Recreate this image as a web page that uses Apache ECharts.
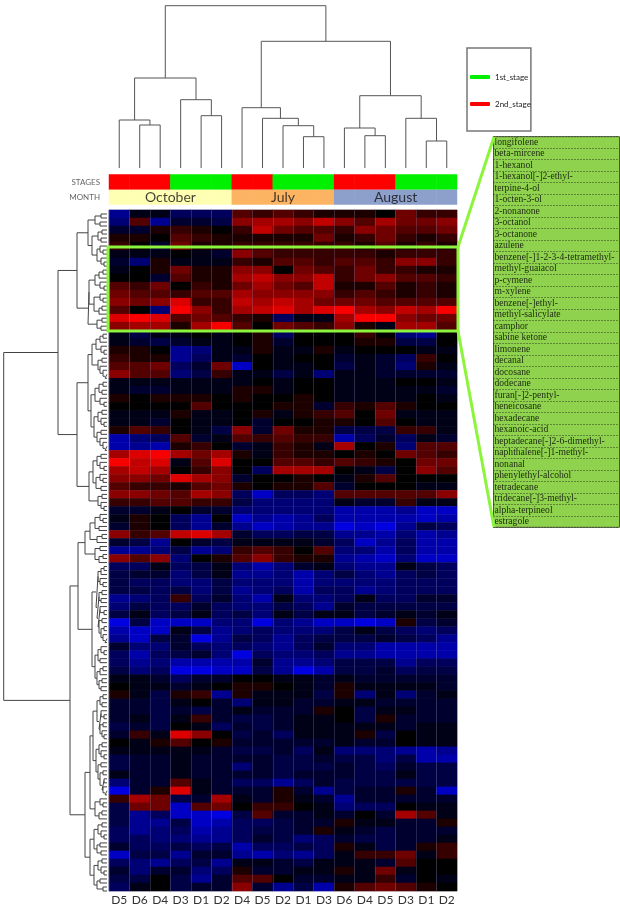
<!DOCTYPE html>
<html>
<head>
<meta charset="utf-8">
<style>html,body{margin:0;padding:0;background:#fff}#chart{width:620px;height:912px}</style>
<script src="https://cdn.jsdelivr.net/npm/echarts@6/dist/echarts.min.js"></script>
</head>
<body>
<div id="chart"></div>
<script>
var sampleCols = ['D5','D6','D4','D3','D1','D2','D4','D5','D2','D1','D3','D6','D4','D5','D3','D1','D2'];
var stageCodes = [2,2,2,1,1,1,2,2,1,1,1,2,2,2,1,1,1];
var monthCodes = [3,3,3,3,3,3,4,4,4,4,4,5,5,5,5,5,5];
var monthNames = ['October','July','August'];
var monthCentres = [2.5,8,13.5];
var compounds = ['longifolene','beta-mircene','1-hexanol','1-hexanol[-]2-ethyl-','terpine-4-ol','1-octen-3-ol','2-nonanone','3-octanol','3-octanone','azulene','benzene[-]1-2-3-4-tetramethyl-','methyl-guaiacol','p-cymene','m-xylene','benzene[-]ethyl-','methyl-salicylate','camphor','sabine ketone','limonene','decanal','docosane','dodecane','furan[-]2-pentyl-','heneicosane','hexadecane','hexanoic-acid','heptadecane[-]2-6-dimethyl-','naphthalene[-]1-methyl-','nonanal','phenylethyl-alcohol','tetradecane','tridecane[-]3-methyl-','alpha-terpineol','estragole'];

// heatmap bands, top to bottom, one row per 8px or so of the picture
var bandTop = [
[-6,-1,-1,-4,-4,-4,3,2,3,2,1,1,1,0,4,2,2],
[-5,3,-6,-2,-2,-3,5,6,6,5,7,5,3,6,4,4,5],
[-2,-2,1,2,1,0,2,7,4,3,3,2,5,4,3,3,4],
[1,1,0,3,2,1,1,1,1,1,4,1,2,4,2,1,2],
[2,0,-2,4,1,1,2,2,2,2,2,2,1,3,1,2,1]
];
var bandGreen = [
[-1,-1,-1,0,-1,-2,5,3,2,2,2,2,2,1,2,2,2],
[-2,-5,1,-1,-1,-1,2,1,3,3,2,3,3,2,5,5,2],
[-1,0,1,4,1,1,5,5,0,4,3,2,4,2,2,1,1],
[0,0,-2,3,1,1,6,7,5,5,7,2,4,5,3,3,2],
[3,2,4,0,2,1,4,6,4,3,7,1,1,3,1,2,1],
[4,3,3,2,3,3,6,5,5,5,5,2,3,2,1,2,1],
[5,4,5,8,2,2,7,6,7,6,4,4,4,3,3,3,3],
[3,0,-5,9,5,2,6,7,8,6,8,9,6,5,7,6,9],
[8,9,8,3,4,3,2,1,-4,-1,-1,6,9,9,5,4,4],
[5,6,6,1,6,9,3,0,4,3,2,5,1,-1,6,6,3]
];
var bandMid = [
[-1,-3,-1,-1,0,-1,0,1,-4,0,0,0,2,0,-5,-6,0],
[-1,-2,-3,-2,-1,-1,0,1,-2,0,0,0,1,1,-3,-3,0],
[1,1,0,-6,-5,-1,-1,1,-1,-1,1,-1,0,0,0,-1,-1],
[2,1,1,-6,-4,-1,-2,0,-1,0,0,-2,-1,-2,-4,2,0],
[3,3,4,-4,-2,4,-8,0,-1,-1,0,-3,-1,-2,-5,1,-1],
[5,3,3,-5,-3,2,-1,-1,-3,-1,-5,-1,-1,-2,-2,-2,-2],
[-1,-1,-1,-1,-1,-1,-1,0,-1,0,0,-1,-1,-1,0,0,-1],
[-1,-2,-2,-1,-1,-1,1,1,-1,0,0,-1,-1,-1,-1,-1,-2],
[1,0,1,1,1,0,1,0,0,1,0,-1,-1,-1,-1,0,-1],
[0,0,0,0,3,0,0,0,1,1,-2,2,1,3,1,0,0],
[-1,-1,-1,1,-1,-1,0,1,-1,1,2,3,0,4,-1,-1,-1],
[-1,-1,-2,0,-1,-1,0,-2,0,0,1,1,0,3,0,-1,-1],
[1,3,2,0,-1,-3,5,-2,4,1,1,-3,-3,-3,2,2,-1],
[-7,-5,-4,3,-2,-1,3,2,3,2,2,-7,-4,-2,-4,-1,-2],
[-7,-6,-7,1,2,0,-2,-1,2,1,-1,6,0,1,-5,3,3],
[6,8,9,6,4,6,1,-1,2,1,1,0,1,0,4,3,2],
[9,7,8,-1,3,8,0,0,3,3,2,3,2,1,0,4,4],
[6,7,6,0,2,5,0,-4,6,6,6,0,-1,-3,0,5,3],
[5,5,4,8,6,5,-2,0,0,1,0,-1,1,3,0,0,0],
[3,2,2,1,3,4,1,0,1,1,3,-2,0,0,0,-1,-1],
[5,5,4,3,6,5,-4,-8,-4,-4,-5,3,3,3,3,3,5],
[2,2,3,3,2,2,-3,-5,-5,-5,-5,-1,-2,-2,2,-1,-1],
[-2,-2,-1,0,-2,-2,-5,-5,-5,-5,-5,-7,-7,-7,-6,-8,-8],
[-1,1,0,-4,-6,0,-8,-6,-7,-6,-4,-7,-7,-7,-7,-8,-7],
[-2,1,0,-4,-6,-2,-6,-8,-7,-6,-6,-9,-8,-9,-6,-3,-4],
[5,2,3,7,8,6,-2,-4,-4,-3,-3,-6,-6,-7,-5,-7,-6],
[-2,-3,-6,0,-2,-3,-1,-1,-1,-1,-2,-4,-8,-6,-4,-7,-7],
[-6,-6,-5,-3,-6,-5,2,3,2,0,3,-5,-5,-7,-4,-7,-7]
];
var bandBlue = [
[5,3,5,-5,0,1,3,5,2,1,1,-6,-7,-8,-5,-8,-8],
[-4,-4,-1,-4,-3,-1,-5,-7,-5,-2,-1,-5,-6,-6,-1,-3,-4],
[-3,-2,-2,-5,-3,-1,-6,-6,-5,-7,-5,-3,-5,-6,-4,-3,-4],
[-3,-4,-4,-5,-5,-3,-5,-5,-5,-7,-5,-5,-5,-5,-4,-4,-4],
[-3,-3,-4,-3,-5,-3,-6,-5,-4,-7,-4,-4,-6,-5,-4,-4,-4],
[-6,-5,-4,2,-4,-2,-5,-7,-1,-5,-5,-4,-1,-4,-4,-2,-2],
[-5,-3,-4,-4,-2,-4,-5,-5,-3,-4,-6,-2,-3,-3,-3,-3,-3],
[-3,-1,-4,-3,-1,-4,-3,-5,-1,-3,-1,-1,-3,-2,-1,-2,-1],
[-9,-3,-8,-8,-8,-5,-5,-9,-5,-6,-8,-8,-9,-8,1,-3,-2],
[-7,-8,-8,-1,-3,-6,-5,-4,-5,-5,-5,-3,-1,-3,-4,-5,-4],
[-6,-8,-3,-2,-9,-6,-3,-4,-6,-4,-3,-3,-3,-2,-3,-4,-6],
[-2,-5,-5,-2,-4,-5,-4,-5,-6,-4,-2,-5,-5,-7,-7,-7,-7],
[-4,-7,-4,-3,-2,-5,-9,-4,-5,-5,-4,-6,-6,-7,-7,-7,-7],
[-4,-6,-5,-7,-7,-7,-7,-2,-6,-6,-5,-3,-3,-3,-6,-4,-4],
[-3,-5,-4,-9,-9,-8,-8,-3,-6,-9,-7,-3,-3,-2,-4,-3,-3],
[-1,-1,-2,-4,-2,-2,0,0,-1,-1,-2,-1,-2,-2,-2,-2,-2],
[0,-1,-1,-2,-1,0,1,1,0,-1,-2,1,-1,-1,-1,-1,-2],
[1,-1,-3,1,2,-6,1,-1,-1,-1,-3,1,-5,-1,-5,-2,-1],
[-2,-2,-3,-1,0,-2,-5,-1,-1,-2,-2,-1,-1,-2,-2,-2,-2],
[-2,-2,-3,-2,-3,-2,-1,-2,-2,-2,1,0,-3,-1,-1,-2,-2],
[-2,-1,-3,-1,2,-2,-3,-3,-2,-1,-1,0,-3,1,-2,-2,-2],
[-3,-2,-3,0,-1,-4,-2,-3,-2,-1,-1,-1,-1,-1,-2,-1,-1]
];
var bandBottom = [
[-2,2,-1,8,5,0,-3,-2,-4,-1,-1,-1,1,-3,0,-1,-1],
[0,-1,1,3,0,1,-2,-2,-2,-2,-2,-1,-2,-2,0,-1,-1],
[-1,-1,-1,-1,-1,-2,-3,-3,-2,-4,-1,-5,-5,-5,-6,-7,-6],
[-3,-2,-2,-1,-2,-2,-2,-2,-3,-3,-2,-3,-3,-5,-3,-7,-7],
[-3,-2,-2,-1,-2,-2,-5,-2,-3,-3,-3,-2,-3,-4,-2,-3,-3],
[-1,-2,-2,-1,-2,-2,-2,-2,-3,-2,-2,-2,-3,-3,-1,-3,-3],
[-5,-2,-2,3,-1,-2,-4,-4,-6,-4,-2,-3,-3,-3,-3,-3,-3],
[-9,-2,1,8,-1,-2,-2,-2,1,-2,-6,-3,-2,-2,1,-2,-8],
[2,6,4,-3,-2,6,-1,-2,1,-1,-2,-6,-2,-2,-2,-2,-2],
[-3,4,4,-8,3,4,0,2,2,0,-1,-5,-4,-4,0,-1,-1],
[-3,-6,-4,-8,-8,-9,-3,3,-2,-2,-1,-2,0,-2,6,3,-1],
[-3,-6,-6,-3,-8,-7,-4,-4,-3,-2,-2,1,-1,-1,-2,-2,1],
[-4,-6,-5,-4,-7,-6,-4,-3,-3,-2,1,-1,-2,-3,-2,-2,-2],
[-4,-4,-5,-5,-6,-6,-4,-2,-3,-5,-4,-2,-3,-3,-2,-2,-1],
[-2,-4,-4,-3,-4,-3,-7,-4,-4,-3,-4,1,-1,-3,-2,1,2],
[-8,-3,-3,-6,-2,-2,-6,-7,-5,-6,-4,-1,2,2,4,-1,2],
[-4,-5,-6,-4,-3,-6,-1,-1,-2,-3,-1,-1,-1,-2,3,0,0],
[-2,-5,-2,-2,-5,-4,1,-2,-2,-1,-1,1,-1,4,-1,0,0],
[-3,-3,0,-3,-6,-2,3,3,0,-2,-2,-1,-1,2,-2,0,-1],
[-4,-1,0,-3,-2,-2,5,-2,-6,-3,-7,1,3,4,3,1,0]
];
var heatRows = bandTop.concat(bandGreen, bandMid, bandBlue, bandBottom);

// dendrograms: [link position, child, child], a plain number is a leaf
var colTree = [5.7,
  [78,[120,0,[125,1,2]],[99.7,3,[115.7,4,5]]],
  [41.3,[107.7,6,[118.3,7,[125.7,8,[136.7,9,10]]]],[95.7,[128,11,[135.7,12,13]],[118.3,14,[141,15,16]]]]
];
var clusterA = [95,[101,0,.5],[100,1,1.5]];
var clusterB = [92,[98,[102,2,2.5],[101,3,3.5]],[97,[100,4,[103,4.5,5]],[101,5.5,[104,6,6.5]]]];
var clusterC = [89,[95,[99,[103,7,7.5],8],[100,8.5,[104,9,9.5]]],[94,[100,10,[103,10.5,11]],[99,[102,11.5,12],12.5]]];
var clusterD = [97,[102,13,13.5],[101,14,14.5]];
var clusterE = [92,[96,[100,[103,15,15.5],16],[101,16.5,[104,17,17.5]]],[98,[102,18,18.5],[100,19,[103,19.5,[105,20,20.5]]]]];
var clusterF = [91,[95,[99,[103,21,21.5],[102,22,22.5]],[100,23,[104,23.5,24]]],[94,[98,[102,24.5,25],[101,25.5,[104,26,26.5]]],[97,[101,27,27.5],[100,28,[103,28.5,[105,29,29.5]]]]]];
var clusterG = [93,[97,[101,30,30.5],[100,31,[104,31.5,32]]],[96,[100,32.5,[103,33,33.5]],[101,34,34.5]]];
var clusterH = [98,[102,35,35.5],[101,36,[104,36.5,37]]];
var clusterP = [90,[95,[100,37.5,[103,38,38.5]],[99,39,39.5]],[97,[102,40,40.5],41]];
var clusterQ = [95,[100,41.5,42],[99,[103,42.5,43],43.5]];
var clusterR = [96,[98,[101,[104,44,44.5],45],[100,45.5,[103,46,46.5]]],[97,[99,[102,47,47.5],[101,48,48.5]],[98,[100,49,[104,49.5,50]],[99,[102,50.5,51],[101,[104,51.5,52],[103,52.5,[105,53,53.5]]]]]]];
var clusterS = [95,[98,[101,54,[104,54.5,55]],[100,55.5,56]],[97,[100,[103,56.5,57],57.5],[99,[102,58,58.5],[101,59,59.5]]]];
var clusterW1 = [97,[100,[103,60,60.5],[102,61,61.5]],[99,[101,62,[104,62.5,63]],[100,[103,63.5,64],[102,64.5,[104,65,65.5]]]]];
var clusterW2 = [96,[99,[102,66,66.5],[101,67,[104,67.5,68]]],[98,[101,68.5,69],[100,[103,69.5,70],[102,[104,70.5,71],[103,71.5,[105,72,72.5]]]]]];
var clusterX = [95,[100,73,[103,73.5,74]],[99,[102,74.5,75],75.5]];
var clusterY = [94,[98,[102,76,76.5],[101,77,[104,77.5,78]]],[97,[100,78.5,79],[101,79.5,80]]];
var clusterZ = [94,[98,[102,80.5,81],[101,81.5,[104,82,82.5]]],[97,[100,83,83.5],[103,84,84.5]]];
var rowTree = [3.7,
  [58,
    [77,[88,clusterA,clusterB],[88,clusterC,clusterD]],
    [77,[88,clusterE,clusterF],[89,clusterG,clusterH]]],
  [70,
    [78,[85,clusterP,clusterQ],[92,clusterR,clusterS]],
    [85,[90,[93,clusterW1,clusterW2],clusterX],[90,clusterY,clusterZ]]]
];

// walk a tree into polylines, broken up by nulls for the line series
function treeLines(tree, leafLevel, toPoint) {
  var out = [];
  function walk(node) {
    if (typeof node === 'number') return { level: leafLevel, pos: node };
    var a = walk(node[1]), b = walk(node[2]);
    out.push(toPoint(a.level, a.pos), toPoint(node[0], a.pos), toPoint(node[0], b.pos), toPoint(b.level, b.pos), null);
    return { level: node[0], pos: (a.pos + b.pos) / 2 };
  }
  walk(tree);
  return out;
}

function cells(rows) {
  var out = [];
  rows.forEach(function (row, y) {
    row.forEach(function (v, x) { out.push([x, y, v]); });
  });
  return out;
}

function catAxis(gridIndex, data, extra) {
  return Object.assign({ type: 'category', gridIndex: gridIndex, data: data, axisLine: { show: false }, axisTick: { show: false }, axisLabel: { show: false }, splitLine: { show: false } }, extra || {});
}
function valAxis(gridIndex, min, max, extra) {
  return Object.assign({ type: 'value', gridIndex: gridIndex, min: min, max: max, show: false, splitLine: { show: false } }, extra || {});
}
var headerLabel = { show: true, color: '#666', fontSize: 8, fontFamily: 'Lato', margin: 9 };
var lime = '#8cf43c';

var chart = echarts.init(document.getElementById('chart'), null, { renderer: 'canvas' });
chart.setOption({
  animation: false,
  backgroundColor: '#fff',
  grid: [
    { left: 109, top: 210, width: 348, height: 681, show: true, borderColor: '#c4c4d4', borderWidth: 1 },
    { left: 109, top: 174.5, width: 348, height: 15 },
    { left: 109, top: 190, width: 348, height: 14.5 },
    { left: 109, top: 0, width: 348, height: 168 },
    { left: 0, top: 210, width: 109, height: 681 },
    { left: 493.5, top: 136.7, width: 126, height: 390.6, show: true, backgroundColor: '#8fd24e', borderColor: '#4a5a38', borderWidth: 1 }
  ],
  xAxis: [
    catAxis(0, sampleCols, { z: 10, axisLabel: { show: true, interval: 0, color: '#333', fontSize: 12, fontFamily: 'Lato', margin: 3 }, splitLine: { show: true, interval: 0, lineStyle: { color: 'rgba(150,150,200,0.25)', width: 1 } } }),
    catAxis(1, sampleCols),
    catAxis(2, sampleCols),
    valAxis(3, -0.5, 16.5),
    valAxis(4, 0, 109),
    valAxis(5, 0, 1),
    valAxis(2, -0.5, 16.5)
  ],
  yAxis: [
    catAxis(0, heatRows.map(function (r, i) { return String(i); }), { inverse: true }),
    catAxis(1, ['STAGES'], { axisLabel: headerLabel }),
    catAxis(2, ['MONTH'], { axisLabel: headerLabel }),
    valAxis(3, 0, 168, { inverse: true }),
    valAxis(4, -0.5, 84.5, { inverse: true }),
    catAxis(5, compounds, { inverse: true, axisLabel: { show: true, inside: true, interval: 0, margin: 1, color: '#1c2a10', fontSize: 9.6, fontFamily: 'Liberation Serif' }, splitLine: { show: true, interval: 0, lineStyle: { color: '#2c3a20', type: [1, 2], width: 1 } } })
  ],
  legend: {
    left: 467, top: 48, orient: 'vertical', selectedMode: false,
    padding: [24, 0, 22, 3], itemGap: 17, itemWidth: 20, itemHeight: 4,
    borderColor: '#777', borderWidth: 1.5,
    textStyle: { color: '#222', fontSize: 8, lineHeight: 10, fontFamily: 'Lato' },
    data: [{ name: '1st_stage', icon: 'roundRect' }, { name: '2nd_stage', icon: 'roundRect' }]
  },
  visualMap: [
    { type: 'continuous', show: false, seriesIndex: 0, min: -9, max: 9, inRange: { color: ['#0000e0', '#000068', '#000000', '#7c0000', '#f80000'] } },
    { type: 'piecewise', show: false, seriesIndex: [1, 2], pieces: [
      { value: 1, color: '#00f000' }, { value: 2, color: '#ff0000' },
      { value: 3, color: '#ffffb3' }, { value: 4, color: '#fdb462' }, { value: 5, color: '#8da0cb' }
    ] }
  ],
  series: [
    { type: 'heatmap', xAxisIndex: 0, yAxisIndex: 0, data: cells(heatRows), progressive: 0, silent: true },
    { type: 'heatmap', xAxisIndex: 1, yAxisIndex: 1, data: cells([stageCodes]), silent: true },
    { type: 'heatmap', xAxisIndex: 2, yAxisIndex: 2, data: cells([monthCodes]), silent: true },
    { type: 'line', xAxisIndex: 3, yAxisIndex: 3, showSymbol: false, silent: true, clip: false,
      lineStyle: { color: '#555', width: 1 },
      data: treeLines(colTree, 168, function (level, pos) { return [pos, level]; }) },
    { type: 'line', xAxisIndex: 4, yAxisIndex: 4, showSymbol: false, silent: true, clip: false,
      lineStyle: { color: '#444', width: 1 },
      data: treeLines(rowTree, 107, function (level, pos) { return [level, pos]; }) },
    { type: 'bar', xAxisIndex: 5, yAxisIndex: 5, data: [] },
    { type: 'scatter', xAxisIndex: 6, yAxisIndex: 2, symbolSize: 0, silent: true, z: 5,
      label: { show: true, position: 'inside', formatter: function (p) { return monthNames[p.dataIndex]; }, color: '#111', fontSize: 14, fontFamily: 'Lato' },
      data: monthCentres.map(function (c) { return [c, 0]; }) },
    { name: '1st_stage', type: 'line', xAxisIndex: 1, yAxisIndex: 1, color: '#00f000', data: [] },
    { name: '2nd_stage', type: 'line', xAxisIndex: 1, yAxisIndex: 1, color: '#ff0000', data: [] }
  ],
  graphic: [
    { type: 'rect', z: 100, shape: { x: 108, y: 247, width: 350, height: 84 }, style: { fill: 'none', stroke: lime, lineWidth: 3 } },
    { type: 'line', z: 100, shape: { x1: 458, y1: 247, x2: 494, y2: 137 }, style: { stroke: lime, lineWidth: 3 } },
    { type: 'line', z: 100, shape: { x1: 458, y1: 331, x2: 494, y2: 527 }, style: { stroke: lime, lineWidth: 3 } }
  ]
});
</script>
</body>
</html>
